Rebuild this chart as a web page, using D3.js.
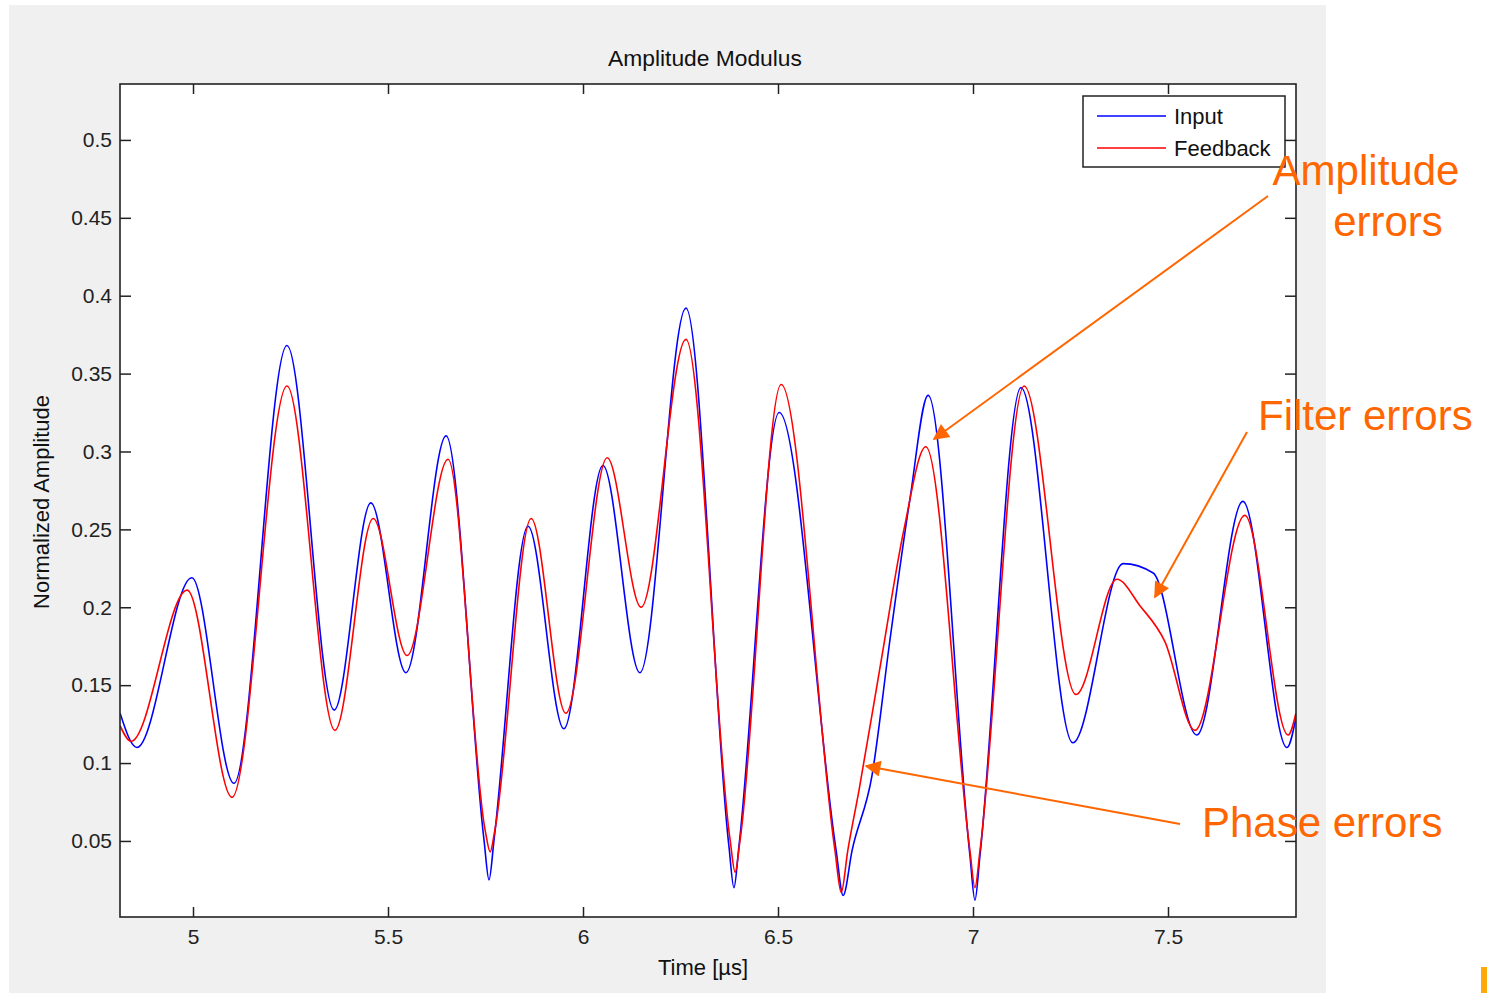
<!DOCTYPE html>
<html>
<head>
<meta charset="utf-8">
<script src="https://cdn.jsdelivr.net/npm/d3@7"></script>
<style>
  body { margin: 0; background: #fff; }
  svg { display: block; font-family: "Liberation Sans", Arial, sans-serif; }
</style>
</head>
<body>
<div class="canva"></div>
<script>
// time axis in microseconds
const inputTime = [4.813, 4.856, 4.997, 5.105, 5.241, 5.362, 5.456, 5.546, 5.649,
  5.746, 5.759, 5.772, 5.859, 5.951, 6.051, 6.146, 6.264,
  6.374, 6.387, 6.400, 6.503, 6.649, 6.667, 6.690, 6.741, 6.787, 6.838, 6.885,
  6.992, 7.005, 7.018, 7.123, 7.256, 7.385, 7.462, 7.574, 7.692, 7.805, 7.828];
const inputAmp = [0.132, 0.110, 0.219, 0.087, 0.368, 0.134, 0.267, 0.158, 0.310,
  0.051, 0.025, 0.051, 0.252, 0.122, 0.291, 0.158, 0.392,
  0.047, 0.020, 0.047, 0.325, 0.044, 0.015, 0.044, 0.092, 0.179, 0.269, 0.336,
  0.041, 0.012, 0.041, 0.341, 0.113, 0.228, 0.222, 0.118, 0.268, 0.110, 0.129];

const feedbackTime = [4.813, 4.841, 4.985, 5.100, 5.241, 5.364, 5.462, 5.549, 5.654,
  5.749, 5.762, 5.774, 5.867, 5.956, 6.062, 6.149, 6.264,
  6.377, 6.390, 6.403, 6.508, 6.646, 6.662, 6.679, 6.708, 6.764, 6.823, 6.879,
  6.992, 7.005, 7.018, 7.131, 7.264, 7.369, 7.428, 7.492, 7.569, 7.697, 7.808, 7.828];
const feedbackAmp = [0.124, 0.114, 0.211, 0.078, 0.342, 0.121, 0.257, 0.169, 0.295,
  0.057, 0.043, 0.057, 0.257, 0.132, 0.296, 0.200, 0.372,
  0.051, 0.030, 0.051, 0.343, 0.044, 0.017, 0.044, 0.083, 0.165, 0.250, 0.303,
  0.044, 0.020, 0.044, 0.342, 0.144, 0.218, 0.201, 0.178, 0.121, 0.259, 0.118, 0.132];

const xTicks = [5, 5.5, 6, 6.5, 7, 7.5];
const yTicks = [0.05, 0.1, 0.15, 0.2, 0.25, 0.3, 0.35, 0.4, 0.45, 0.5];
const seriesNames = ["Input", "Feedback"];
const seriesColors = ["#0000ff", "#ff0000"];

const orange = "#ff6600";

const svg = d3.select(".canva").append("svg")
  .attr("width", 1487)
  .attr("height", 993);

svg.append("rect").attr("x", 9).attr("y", 5).attr("width", 1317).attr("height", 988).attr("fill", "#f0f0f0");
svg.append("rect").attr("x", 1481).attr("y", 967).attr("width", 6).attr("height", 26).attr("fill", "#ffaa0a");

const pLeft = 120, pRight = 1296, pTop = 84, pBottom = 917;

const x = d3.scaleLinear().domain([4.8128, 7.8282]).range([pLeft, pRight]);
const y = d3.scaleLinear().domain([0.00118, 0.5359]).range([pBottom, pTop]);

svg.append("rect")
  .attr("x", pLeft).attr("y", pTop)
  .attr("width", pRight - pLeft).attr("height", pBottom - pTop)
  .attr("fill", "#fff");

// clip for the lines
svg.append("clipPath").attr("id", "plotclip")
  .append("rect").attr("x", pLeft).attr("y", pTop).attr("width", pRight - pLeft).attr("height", pBottom - pTop);

const line = d3.line().x(d => x(d[0])).y(d => y(d[1])).curve(d3.curveMonotoneX);

const inputData = inputTime.map((t, i) => [t, inputAmp[i]]);
const feedbackData = feedbackTime.map((t, i) => [t, feedbackAmp[i]]);

const g = svg.append("g").attr("clip-path", "url(#plotclip)");
g.append("path").datum(inputData)
  .attr("d", line).attr("fill", "none")
  .attr("stroke", seriesColors[0]).attr("stroke-width", 1.6);
g.append("path").datum(feedbackData)
  .attr("d", line).attr("fill", "none")
  .attr("stroke", seriesColors[1]).attr("stroke-width", 1.6);

// axes (ticks point inward, like matlab)
const axStyle = sel => {
  sel.select(".domain").remove();
  sel.selectAll(".tick line").attr("stroke", "#222").attr("stroke-width", 1.5);
  sel.selectAll(".tick text").attr("font-size", 21).attr("fill", "#222")
    .attr("font-family", "Liberation Sans, Arial, sans-serif");
};

svg.append("g").attr("transform", `translate(0,${pBottom})`)
  .call(d3.axisBottom(x).tickValues(xTicks).tickSize(-10).tickPadding(12).tickFormat(d3.format("")))
  .call(axStyle);
svg.append("g").attr("transform", `translate(0,${pTop})`)
  .call(d3.axisTop(x).tickValues(xTicks).tickSize(-10).tickFormat(""))
  .call(axStyle);
svg.append("g").attr("transform", `translate(${pLeft},0)`)
  .call(d3.axisLeft(y).tickValues(yTicks).tickSize(-11).tickPadding(8).tickFormat(d3.format("")))
  .call(axStyle);
svg.append("g").attr("transform", `translate(${pRight},0)`)
  .call(d3.axisRight(y).tickValues(yTicks).tickSize(-11).tickFormat(""))
  .call(axStyle);

svg.append("rect")
  .attr("x", pLeft).attr("y", pTop)
  .attr("width", pRight - pLeft).attr("height", pBottom - pTop)
  .attr("fill", "none").attr("stroke", "#222").attr("stroke-width", 1.6);

// titles
svg.append("text").text("Amplitude Modulus")
  .attr("x", 705).attr("y", 66).attr("text-anchor", "middle")
  .attr("font-size", 22.8).attr("fill", "#111");
svg.append("text").text("Time [\u00b5s]")
  .attr("x", 703).attr("y", 975).attr("text-anchor", "middle")
  .attr("font-size", 22).attr("fill", "#111");
svg.append("text").text("Normalized Amplitude")
  .attr("transform", "translate(49,502) rotate(-90)")
  .attr("text-anchor", "middle")
  .attr("font-size", 22).attr("fill", "#111");

// legend
const leg = svg.append("g");
leg.append("rect").attr("x", 1083).attr("y", 96).attr("width", 202).attr("height", 71)
  .attr("fill", "#fff").attr("stroke", "#222").attr("stroke-width", 1.5);
seriesNames.forEach((name, i) => {
  const ly = 116 + i * 32;
  leg.append("line").attr("x1", 1097).attr("x2", 1166).attr("y1", ly).attr("y2", ly)
    .attr("stroke", seriesColors[i]).attr("stroke-width", 1.6);
  leg.append("text").text(name).attr("x", 1174).attr("y", ly + 8)
    .attr("font-size", 22).attr("fill", "#111");
});

// annotations
svg.append("defs").append("marker")
  .attr("id", "arrow").attr("viewBox", "0 0 10 10")
  .attr("refX", 9).attr("refY", 5)
  .attr("markerWidth", 9).attr("markerHeight", 8)
  .attr("markerUnits", "strokeWidth")
  .attr("orient", "auto")
  .append("path").attr("d", "M0,0 L10,5 L0,10 z").attr("fill", orange);

const arrows = [
  [1268, 196, 934, 439],
  [1247, 432, 1155, 597],
  [1180, 824, 866, 766]
];
arrows.forEach(a => {
  svg.append("line")
    .attr("x1", a[0]).attr("y1", a[1]).attr("x2", a[2]).attr("y2", a[3])
    .attr("stroke", orange).attr("stroke-width", 2)
    .attr("marker-end", "url(#arrow)");
});

const note = (txt, xx, yy, anchor) => svg.append("text").text(txt)
  .attr("x", xx).attr("y", yy).attr("text-anchor", anchor)
  .attr("font-size", 42).attr("fill", orange);
note("Amplitude", 1366, 185, "middle");
note("errors", 1388, 236, "middle");
note("Filter errors", 1258, 430, "start");
note("Phase errors", 1202, 837, "start");
</script>
</body>
</html>
